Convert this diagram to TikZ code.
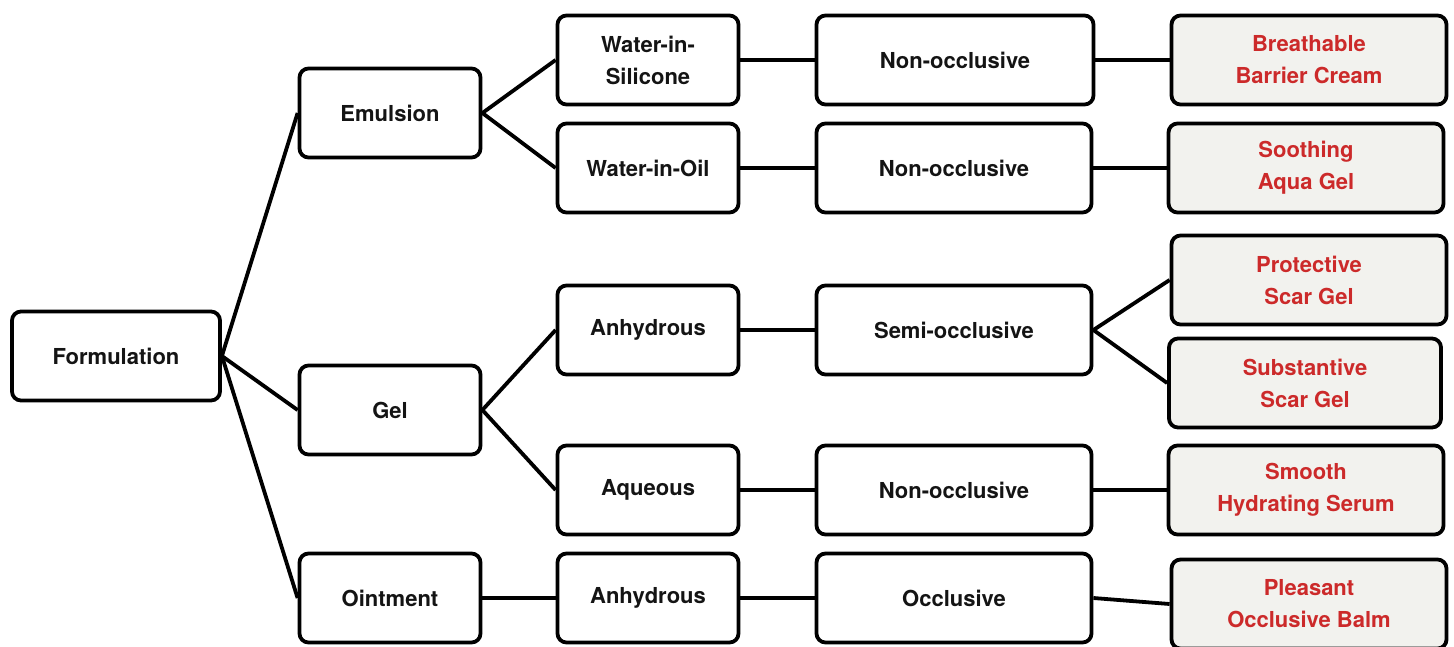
\documentclass[tikz,border=0pt]{standalone}
\usepackage{fontspec}
\setmainfont{TeX Gyre Heros}
\definecolor{prodfill}{HTML}{F2F2EE}
\definecolor{prodred}{HTML}{CC2A2A}
\begin{document}
\begin{tikzpicture}[x=1pt,y=-1pt,
  box/.style={draw=black, line width=3.8pt, rounded corners=9pt, fill=white,
    font=\bfseries\fontsize{22}{32}\selectfont, align=center, inner sep=0pt,
    minimum height=89pt, text=black!92},
  wA/.style={minimum width=208pt},
  wB/.style={minimum width=181pt},
  wC/.style={minimum width=275pt},
  prod/.style={box, fill=prodfill, text=prodred},
  link/.style={line width=3.8pt}]
\useasboundingbox[fill=white] (0,0) rectangle (1454,646);
% column 1
\node[box,wA] (form) at (116,356) {Formulation};
% column 2
\node[box,wB] (emul) at (390,113) {Emulsion};
\node[box,wB] (gel)  at (390,410) {Gel};
\node[box,wB] (oint) at (390,598) {Ointment};
% column 3
\node[box,wB] (wis)  at (648,60)  {Water-in-\\Silicone};
\node[box,wB] (wio)  at (648,168) {Water-in-Oil};
\node[box,wB] (anh1) at (648,330) {Anhydrous};
\node[box,wB] (aq)   at (648,490) {Aqueous};
\node[box,wB] (anh2) at (648,598) {Anhydrous};
% column 4
\node[box,wC,minimum width=277pt] (no1) at (955,60) {Non-occlusive};
\node[box,wC] (no2)  at (954,168) {Non-occlusive};
\node[box,wC] (semi) at (954,330) {Semi-occlusive};
\node[box,wC] (no3)  at (954,490) {Non-occlusive};
\node[box,wC] (occ)  at (954,598) {Occlusive};
% column 5
\node[prod,wC] (p1) at (1309,60)  {Breathable\\Barrier Cream};
\node[prod,wC] (p2) at (1306,168) {Soothing\\Aqua Gel};
\node[prod,wC] (p3) at (1309,280) {Protective\\Scar Gel};
\node[prod,wC,minimum width=272pt] (p4) at (1305,383) {Substantive\\Scar Gel};
\node[prod,wC] (p5) at (1306,490) {Smooth\\Hydrating Serum};
\node[prod,wC] (p6) at (1309,604) {Pleasant\\Occlusive Balm};
% connectors
\draw[link] (form.east) -- (emul.west);
\draw[link] (form.east) -- (gel.west);
\draw[link] (form.east) -- (oint.west);
\draw[link] (emul.east) -- (wis.west);
\draw[link] (emul.east) -- (wio.west);
\draw[link] (gel.east) -- (anh1.west);
\draw[link] (gel.east) -- (aq.west);
\draw[link] (oint) -- (anh2);
\draw[link] (wis) -- (no1);
\draw[link] (wio) -- (no2);
\draw[link] (anh1) -- (semi);
\draw[link] (aq) -- (no3);
\draw[link] (anh2) -- (occ);
\draw[link] (no1) -- (p1);
\draw[link] (no2) -- (p2);
\draw[link] (semi.east) -- (p3.west);
\draw[link] (semi.east) -- (p4.west);
\draw[link] (no3) -- (p5);
\draw[link] (occ.east) -- (p6.west);
\end{tikzpicture}
\end{document}
